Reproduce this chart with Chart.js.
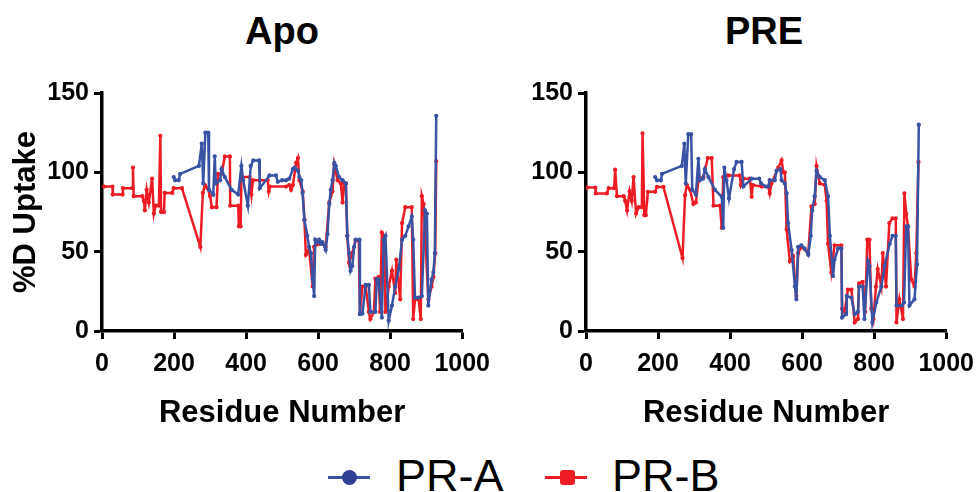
<!DOCTYPE html>
<html lang="en">
<head>
  <meta charset="UTF-8">
  <title>%D Uptake - Apo / PRE</title>
  <script src="https://cdn.jsdelivr.net/npm/chart.js"></script>
  <style>
    body {
      margin: 0;
      width: 977px;
      height: 492px;
      background: #fff;
      position: relative;
      overflow: hidden;
      font-family: 'Liberation Sans', Arial, sans-serif;
    }
    .panel {
      position: absolute;
      top: 0;
      width: 500px;
      height: 440px;
    }
    .title {
      position: absolute;
      top: 9px;
      width: 200px;
      text-align: center;
      font-weight: bold;
      font-size: 38px;
      line-height: 44px;
    }
    .legend-line {
      position: absolute;
      height: 3px;
      width: 42px;
      top: 476px;
    }
    .legend-text {
      position: absolute;
      top: 453px;
      font-size: 45px;
      line-height: 45px;
    }
  </style>
</head>
<body>

<div class="title" style="left:182px">Apo</div>
<div class="title" style="left:664px">PRE</div>

<div class="panel" style="left:0"><canvas id="apoChart" width="500" height="440"></canvas></div>
<div class="panel" style="left:484px"><canvas id="preChart" width="500" height="440"></canvas></div>

<div class="legend-line" style="left:328px; background:#3953a4"></div>
<div style="position:absolute; left:342px; top:470px; width:15px; height:15px; border-radius:50%; background:#2e3f95"></div>
<div class="legend-text" style="left:396px">PR-A</div>
<div class="legend-line" style="left:545px; background:#ed1c24"></div>
<div style="position:absolute; left:560px; top:470px; width:15px; height:15px; border-radius:3px; background:#ed1c24"></div>
<div class="legend-text" style="left:612px">PR-B</div>

<script>
// residue number, %D uptake
const apoPRA = [[199,97],[203,95],[213,95],[217,99],[269,104],[277,118],[281,93],[287,125],[295,125],[297,89],[309,86],[313,110],[316,93],[328,95],[332,102],[341,97],[360,89],[378,86],[387,104],[392,95],[405,79],[413,104],[420,107.5],[436,107.5],[438,90],[465,98],[483,98],[488,94],[500,95],[511,95],[520,96],[530,102],[535,103],[544,101],[548,97],[553,95],[557,87],[562,70],[570,60],[575,53],[580,49],[585,32.5],[589,22],[592,57.5],[598,56],[603,57.5],[608,55],[612,56],[621,51],[626,61],[631,80],[635,89],[640,95],[645,106],[649,104],[658,97],[668,95],[677,93],[681,60],[686,49],[690,38],[695,41],[700,53],[704,57.5],[715,57.5],[716,10.6],[723,11],[732,29],[741,29],[745,12],[759,12],[763,32.5],[768,32.5],[777,8.5],[782,57.5],[787,60],[796,6.5],[805,16],[814,28],[824,39],[833,57.5],[842,60],[851,66],[860,72],[864,57.5],[869,21],[879,21],[888,22],[897,76],[902,74],[906,16],[915,32.5],[920,37],[924,49],[928,135.6]];

const apoPRB = [[6,91],[29,91],[30,86],[57,86],[58,90],[84,90],[86,103],[88,85],[112,85],[116,82],[119,76],[124,89],[130,81],[139,96],[144,74],[149,79],[158,79],[162,123],[164,75],[172,75],[174,87],[195,87],[199,90],[222,90],[273,53],[280,87],[286,92],[293,90],[300,85],[305,78],[318,78],[322,99],[332,99],[341,110],[355,110],[356,79],[378,79],[380,66],[385,66],[387,97],[410,97],[415,86],[419,95],[438,95],[460,95],[463,88],[466,91],[511,91],[520,92],[525,89],[530,92],[539,106],[544,109],[548,95],[557,88],[562,70],[566,48],[575,51],[585,28],[589,53],[603,55],[612,55],[621,53],[631,81],[640,88],[645,105],[654,95],[663,93],[668,81],[672,93],[677,93],[681,60],[686,43],[695,49],[704,57],[713,57],[716,11],[723,28],[732,28],[741,12],[745,7.5],[755,12],[759,33],[768,34],[772,12],[777,62],[783,60],[787,12],[796,28],[805,38],[814,24],[817,45],[828,20],[833,68],[842,78],[860,78],[864,7.5],[869,20],[879,20],[885,7.5],[888,85],[893,80],[906,20],[915,28],[920,34],[925,49],[928,107]];

const prePRA = [[192,97],[197,95],[208,95],[211,99],[266,104],[273,118],[277,93],[284,124],[292,124],[295,89],[305,86],[312,108.5],[316,95],[325,96],[330,102],[340,97],[358,89],[377,84.6],[381,65],[384,103],[390,95],[397,83.5],[411,102],[418,106.5],[432,106.5],[437,91],[460,96],[481,96],[486,93],[500,91],[506,91],[510,95],[524,95],[529,101],[540,102],[543,95],[552,93],[557,86.7],[561,68],[571,51],[580,28],[584,20],[589,53],[598,54],[607,52],[617,48],[624,60],[628,76],[635,85],[640,101],[649,97],[663,95],[672,85],[677,60],[686,34.6],[690,45],[700,52],[709,52],[711,8.5],[722,10.6],[724,22],[737,21],[746,10.6],[755,12],[758,28],[768,28],[773,7.5],[783,44],[787,41],[795,5.4],[806,18],[820,28],[829,41],[843,55],[851,60],[860,60],[862,16],[877,16],[883,18],[889,66],[894,66],[898,16],[912,20],[919,42],[924,130]];

const prePRB = [[3,90.4],[26,90.4],[27,86.7],[58,86.7],[63,90],[78,90],[81,101.7],[86,85],[105,85],[109,82],[114,76],[121,88],[127,82],[132,97],[139,74],[146,78],[155,78],[157,124.6],[162,73],[166,73],[172,87.7],[192,87.7],[197,90.8],[215,90.8],[268,46],[275,85.6],[280,92],[289,89],[298,80],[305,81],[313,96],[326,97],[338,109],[349,109],[354,79],[372,79],[377,65],[381,97],[395,98],[427,98],[430,92],[437,96],[455,96],[460,84.6],[463,92],[488,91],[506,91],[510,86.7],[515,93],[534,103],[543,107.5],[548,100],[552,100],[557,64],[566,44],[575,47],[584,22],[589,49],[598,53],[617,49],[626,78.5],[635,80],[640,104],[649,93],[663,92],[668,82],[672,55],[681,37],[690,54],[709,54],[711,14],[718,12],[727,26],[737,26],[746,5.4],[755,7.5],[758,30],[768,31],[775,12],[781,57.5],[787,57.5],[792,14],[798,7.5],[805,28],[810,39],[820,28],[824,49],[833,28],[842,68],[851,71],[860,71],[862,5.4],[870,20],[880,7.5],[884,86.7],[889,74],[894,66],[903,32.5],[912,28],[917,49],[923,106.5]];

const xTicks = [0, 200, 400, 600, 800, 1000];
const yTicks = [0, 50, 100, 150];

const BLUE = '#3953a4';
const RED = '#ed1c24';
const FONT = "'Liberation Sans', Arial, sans-serif";

function toPoints(arr) {
  return arr.map(p => ({ x: p[0], y: p[1] }));
}

function series(label, arr, color) {
  return {
    label: label,
    data: toPoints(arr),
    borderColor: color,
    backgroundColor: color,
    borderWidth: 2.5,
    pointRadius: 0.9,
    pointHoverRadius: 0,
    tension: 0
  };
}

function makeChart(id, seriesA, seriesB, showYTitle) {
  const ctx = document.getElementById(id).getContext('2d');
  return new Chart(ctx, {
    type: 'line',
    data: {
      // PR-A first so it is painted on top
      datasets: [series('PR-A', seriesA, BLUE), series('PR-B', seriesB, RED)]
    },
    options: {
      responsive: false,
      animation: false,
      events: [],
      layout: { padding: { top: 93, right: 0, left: 0, bottom: 0 } },
      plugins: {
        legend: { display: false },
        tooltip: { enabled: false }
      },
      scales: {
        x: {
          type: 'linear',
          min: 0,
          max: 1000,
          afterBuildTicks: s => { s.ticks = xTicks.map(v => ({ value: v })); },
          afterFit: s => { s.height = 109; },
          border: { color: '#000', width: 3.5 },
          grid: { drawOnChartArea: false, tickLength: 8, tickWidth: 3, tickColor: '#000' },
          ticks: {
            color: '#000', padding: 10, maxRotation: 0,
            callback: v => String(v),
            font: { family: FONT, size: 25, weight: 'bold' }
          },
          title: {
            display: true,
            text: 'Residue Number',
            color: '#000',
            padding: { top: 0, bottom: 8 },
            font: { family: FONT, size: 31, weight: 'bold' }
          }
        },
        y: {
          min: 0,
          max: 150,
          afterBuildTicks: s => { s.ticks = yTicks.map(v => ({ value: v })); },
          afterFit: s => { s.width = 102; },
          border: { color: '#000', width: 3.5 },
          grid: { drawOnChartArea: false, tickLength: 8, tickWidth: 3, tickColor: '#000' },
          ticks: {
            color: '#000', padding: 5,
            callback: v => String(v),
            font: { family: FONT, size: 25, weight: 'bold' }
          },
          title: {
            display: showYTitle,
            text: '%D Uptake',
            color: '#000',
            padding: { top: 8, bottom: 0 },
            font: { family: FONT, size: 31, weight: 'bold' }
          }
        }
      }
    }
  });
}

makeChart('apoChart', apoPRA, apoPRB, true);
makeChart('preChart', prePRA, prePRB, false);
</script>

</body>
</html>
